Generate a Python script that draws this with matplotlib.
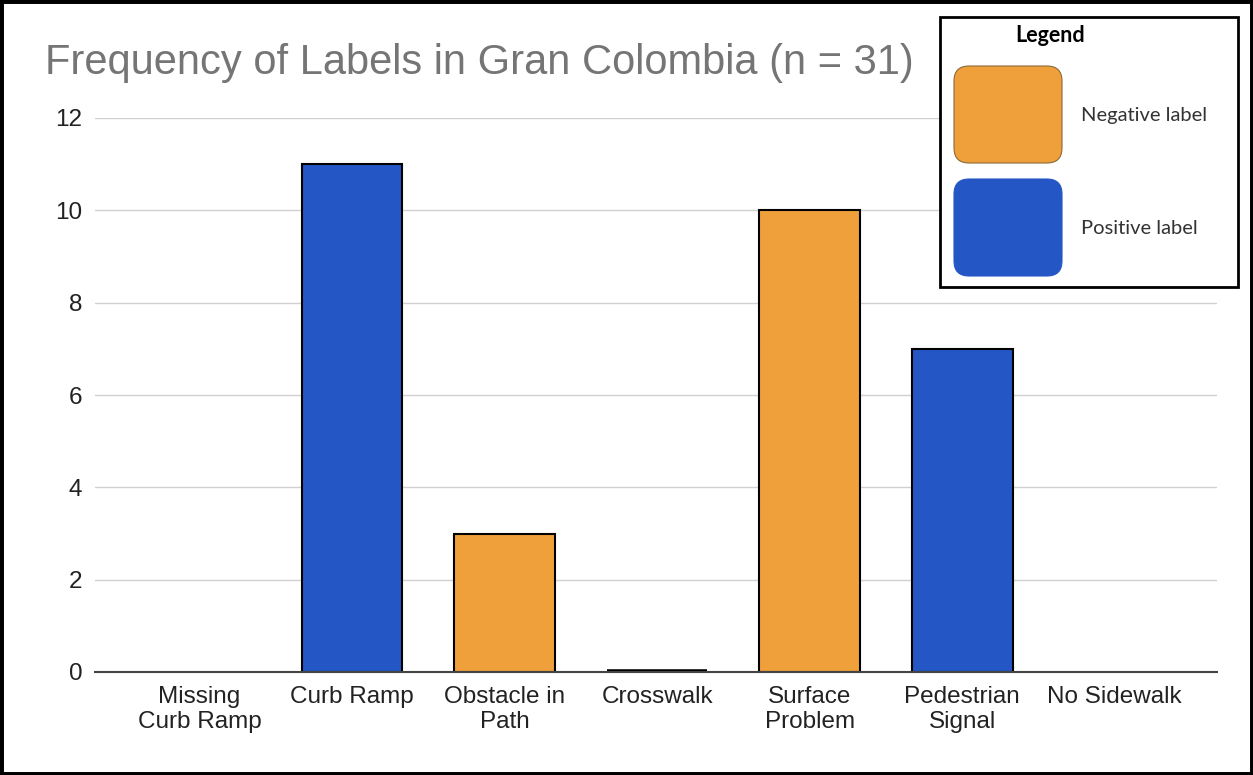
import matplotlib.pyplot as plt
from matplotlib.patches import FancyBboxPatch, Rectangle

# Label counts per category
categories = ["Missing\nCurb Ramp", "Curb Ramp", "Obstacle in\nPath", "Crosswalk",
              "Surface\nProblem", "Pedestrian\nSignal", "No Sidewalk"]
counts = [0, 11, 3, 0, 10, 7, 0]
kinds = ["neg", "pos", "neg", "neg", "neg", "pos", "neg"]
yticks = [0, 2, 4, 6, 8, 10, 12]

ORANGE = "#F0A03A"
BLUE = "#2457C5"
colors = {"neg": ORANGE, "pos": BLUE}

W, H = 1253, 775
fig = plt.figure(figsize=(W / 100, H / 100), dpi=100)
ax = fig.add_axes([95 / W, 1 - 672 / H, (1217 - 95) / W, (672 - 118) / H])

x = list(range(len(categories)))
bar_colors = [colors[k] for k in kinds]
# empty categories get no outline, except Crosswalk which shows a stub
edges = ["black" if (c > 0 or cat == "Crosswalk") else "none"
         for c, cat in zip(counts, categories)]
lws = [1.5 if c > 0 else 4 for c in counts]
ax.bar(x, counts, width=0.66, color=bar_colors, edgecolor=edges,
       linewidth=lws, zorder=3)

ax.set_xlim(-0.685, 6.67)
ax.set_ylim(0, 12)
ax.set_yticks(yticks)
ax.set_xticks(x)
ax.set_xticklabels(categories, fontsize=17.5, family="Liberation Sans",
                   color="#222222", linespacing=1.2)
ax.tick_params(axis="y", labelsize=17.5, colors="#222222", length=0, pad=9)
ax.tick_params(axis="x", length=0, pad=10)
for lab in ax.get_yticklabels():
    lab.set_family("Liberation Sans")
ax.grid(axis="y", color="#d0d0d0", linewidth=1, zorder=0)
for side in ["top", "right", "left"]:
    ax.spines[side].set_visible(False)
ax.spines["bottom"].set_color("#444444")
ax.spines["bottom"].set_linewidth(1.5)
ax.spines["bottom"].set_zorder(4)

fig.text(45 / W, 1 - 63 / H, "Frequency of Labels in Gran Colombia (n = 31)",
         fontsize=30, color="#757575", family="Liberation Sans",
         ha="left", va="center")

# Legend box drawn in figure pixels
def fx(px):
    return px / W

def fy(py):
    return 1 - py / H

fig.patches.append(Rectangle((fx(940), fy(287)), fx(1238) - fx(940), fy(17) - fy(287),
                             transform=fig.transFigure, facecolor="white",
                             edgecolor="black", linewidth=2, zorder=5))
fig.text(fx(1050), fy(36), "Legend", fontsize=15.5, fontweight="bold",
         family="Lato", ha="center", va="center", zorder=6)
for top, color, text in [(66, ORANGE, "Negative label"), (179, BLUE, "Positive label")]:
    fig.patches.append(FancyBboxPatch((fx(954), fy(top + 97)), fx(1062) - fx(954),
                                      fy(top) - fy(top + 97),
                                      boxstyle="round,pad=0,rounding_size=0.012",
                                      mutation_aspect=W / H,
                                      transform=fig.transFigure, facecolor=color,
                                      edgecolor="#8a6a3a" if color == ORANGE else color,
                                      linewidth=0.8, zorder=6))
    fig.text(fx(1081), fy(top + 50), text, fontsize=14.5, family="Lato",
             color="#333333", ha="left", va="center", zorder=6)

# outer frame
fig.patches.append(Rectangle((0, 0), 1, 1, transform=fig.transFigure,
                             facecolor="none", edgecolor="black", linewidth=5,
                             zorder=10))

fig.savefig("out.png", dpi=100)
